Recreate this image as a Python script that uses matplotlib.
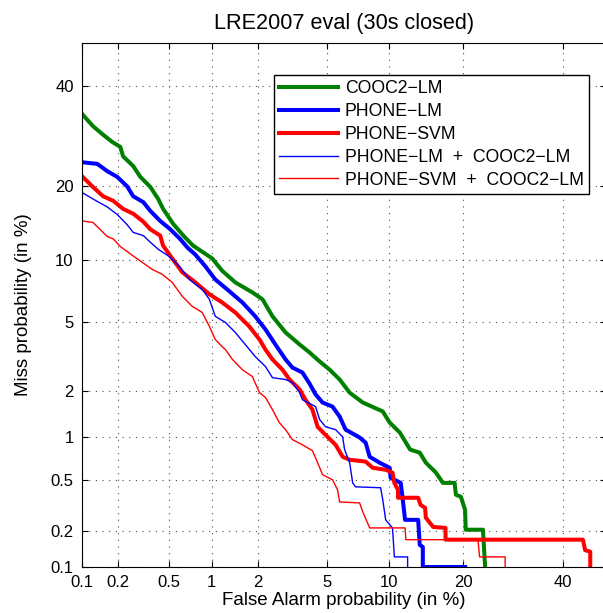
import numpy as np
import matplotlib
matplotlib.use('Agg')
import matplotlib.pyplot as plt
from matplotlib.ticker import FixedLocator, FixedFormatter, NullLocator
from statistics import NormalDist

plt.rcParams['font.family'] = ['Liberation Sans', 'DejaVu Sans']

# DET curves, false alarm (%) vs miss (%)
cooc_fa = [0.1, 0.124, 0.148, 0.179, 0.209, 0.220, 0.265, 0.301, 0.36, 0.413, 0.45, 0.535, 0.634,
           0.745, 1.01, 1.18, 1.44, 1.85, 2.14, 2.46, 2.94, 3.54, 4.02, 4.56, 5.16, 5.81, 6.53, 7.57,
           9.40, 10.1, 11.2, 12.4, 13.6, 14.4, 15.8, 16.8, 18.6, 18.8, 19.6, 20.3, 20.4, 23.4, 23.8]
cooc_miss = [33.8, 31.2, 29.6, 28.0, 27.0, 25.2, 23.4, 21.5, 19.8, 17.9, 16.4, 14.3, 12.8,
             11.6, 10.2, 8.96, 7.9, 7.07, 6.53, 5.35, 4.39, 3.77, 3.40, 3.02, 2.70, 2.36, 1.96, 1.70,
             1.49, 1.26, 1.08, 0.825, 0.785, 0.666, 0.564, 0.474, 0.474, 0.386, 0.373, 0.295, 0.205, 0.205, 0.1]

plm_fa = [0.1, 0.135, 0.163, 0.197, 0.237, 0.265, 0.318, 0.36, 0.428, 0.509, 0.60, 0.677, 0.772,
          0.906, 1.06, 1.32, 1.60, 1.93, 2.23, 2.56, 2.94, 3.22, 3.67, 4.02, 4.34, 4.73, 5.34, 5.81,
          6.23, 7.31, 7.82, 8.17, 9.09, 10.1, 10.2, 11.3, 11.5, 11.8, 13.4, 13.6, 14.0, 14.0, 20.3]
plm_miss = [24.1, 23.8, 22.5, 21.5, 19.9, 18.3, 17.4, 16.1, 14.7, 13.6, 12.4, 11.4, 10.6,
            9.40, 8.16, 7.15, 6.30, 5.35, 4.56, 3.77, 3.10, 2.78, 2.60, 2.23, 1.91, 1.70, 1.60, 1.38,
            1.13, 1.00, 0.921, 0.734, 0.666, 0.612, 0.517, 0.474, 0.373, 0.246, 0.246, 0.154, 0.148, 0.1, 0.1]

psvm_fa = [0.1, 0.124, 0.151, 0.183, 0.220, 0.265, 0.318, 0.36, 0.428, 0.45, 0.526, 0.623, 0.772,
           0.967, 1.18, 1.44, 1.77, 2.05, 2.23, 2.46, 2.82, 3.10, 3.54, 3.82, 4.17, 4.45, 4.91, 5.54,
           6.02, 6.53, 7.82, 8.44, 9.69, 10.4, 10.6, 11.0, 11.0, 13.4, 13.7, 14.3, 14.4, 15.4, 17.2,
           17.2, 44.6, 45.1, 46.3, 46.3]
psvm_miss = [21.6, 19.8, 18.3, 17.6, 16.4, 15.7, 14.6, 13.6, 12.8, 11.6, 10.2, 8.82, 7.9,
             6.92, 6.30, 5.60, 4.73, 4.02, 3.53, 3.10, 2.70, 2.36, 2.05, 1.77, 1.53, 1.18, 1.04, 0.89,
             0.734, 0.699, 0.678, 0.612, 0.592, 0.564, 0.474, 0.42, 0.366, 0.366, 0.323, 0.306, 0.256, 0.216, 0.212,
             0.170, 0.170, 0.139, 0.135, 0.1]

plm_cooc_fa = [0.1, 0.135, 0.163, 0.197, 0.237, 0.265, 0.318, 0.36, 0.413, 0.50, 0.592, 0.70, 0.863,
               0.967, 1.06, 1.24, 1.44, 1.67, 1.93, 2.23, 2.46, 2.94, 3.22, 3.54, 3.67, 4.34, 4.56, 4.91,
               5.54, 6.02, 6.16, 6.53, 6.76, 6.98, 9.19, 9.40, 9.69, 10.4, 10.6, 12.1, 12.1]
plm_cooc_miss = [18.9, 17.5, 16.7, 15.6, 14.2, 13.2, 12.8, 12.0, 11.2, 10.4, 9.40, 8.16, 7.31,
                 6.53, 5.35, 4.97, 4.39, 3.77, 3.22, 2.82, 2.42, 2.36, 2.26, 1.96, 1.77, 1.60, 1.32, 1.18,
                 1.13, 1.01, 0.825, 0.666, 0.474, 0.443, 0.436, 0.353, 0.246, 0.212, 0.122, 0.122, 0.1]

psvm_cooc_fa = [0.1, 0.124, 0.142, 0.163, 0.183, 0.209, 0.275, 0.373, 0.443, 0.526, 0.623, 0.734, 0.863,
                0.967, 1.06, 1.18, 1.24, 1.38, 1.60, 1.85, 2.05, 2.23, 2.46, 2.70, 2.94, 3.22, 3.67, 4.17,
                4.45, 4.73, 5.34, 5.67, 5.81, 7.31, 7.57, 8.17, 11.8, 11.9, 22.5, 22.8, 27.6, 27.6]
psvm_cooc_miss = [14.7, 14.5, 13.6, 12.7, 12.4, 11.5, 10.3, 9.09, 8.63, 7.90, 6.76, 6.02, 5.60,
                  4.73, 4.02, 3.67, 3.53, 3.10, 2.70, 2.46, 1.96, 1.83, 1.53, 1.26, 1.13, 0.967, 0.89, 0.81,
                  0.666, 0.545, 0.50, 0.42, 0.34, 0.334, 0.285, 0.212, 0.212, 0.170, 0.170, 0.122, 0.122, 0.1]

tick_vals = [0.1, 0.2, 0.5, 1, 2, 5, 10, 20, 40]
tick_labels = ['0.1', '0.2', '0.5', '1', '2', '5', '10', '20', '40']

nd = NormalDist()
_ppf = np.vectorize(nd.inv_cdf, otypes=[float])
_cdf = np.vectorize(nd.cdf, otypes=[float])


def probit(p):
    p = np.clip(np.asarray(p, dtype=float) / 100.0, 1e-9, 1 - 1e-9)
    return _ppf(p)


def inv_probit(z):
    return _cdf(np.asarray(z, dtype=float)) * 100.0


fig = plt.figure(figsize=(6.03, 6.13), dpi=100)
ax = fig.add_axes([82/603, 46/613, 524/603, 524/613])
ax.set_xscale('function', functions=(probit, inv_probit))
ax.set_yscale('function', functions=(probit, inv_probit))

thick = 2.9
thin = 1.0
ax.plot(cooc_fa, cooc_miss, color='#008000', lw=thick, label='COOC2\u2212LM')
ax.plot(plm_fa, plm_miss, color='#0000ff', lw=thick, label='PHONE\u2212LM')
ax.plot(psvm_fa, psvm_miss, color='#ff0000', lw=thick, label='PHONE\u2212SVM')
ax.plot(plm_cooc_fa, plm_cooc_miss, color='#0000ff', lw=thin, label='PHONE\u2212LM  +  COOC2\u2212LM')
ax.plot(psvm_cooc_fa, psvm_cooc_miss, color='#ff0000', lw=thin, label='PHONE\u2212SVM  +  COOC2\u2212LM')

ax.set_xlim(0.1, 50)
ax.set_ylim(0.1, 50)
for axis in (ax.xaxis, ax.yaxis):
    axis.set_major_locator(FixedLocator(tick_vals))
    axis.set_major_formatter(FixedFormatter(tick_labels))
    axis.set_minor_locator(NullLocator())

ax.tick_params(direction='in', top=True, right=True, length=4, labelsize=12, pad=6)
ax.grid(True, color='0.3', linestyle=(0, (1, 5)), linewidth=0.8)

ax.set_title('LRE2007 eval (30s closed)', fontsize=15.6, pad=10)
ax.set_xlabel('False Alarm probability (in %)', fontsize=13.5, labelpad=1)
ax.set_ylabel('Miss probability (in %)', fontsize=13.5, labelpad=13)

ax.legend(loc='upper right', bbox_to_anchor=(589/603, 1 - 75/613), bbox_transform=fig.transFigure,
          fancybox=False, edgecolor='k', framealpha=1, fontsize=12.7, handlelength=3.3,
          borderaxespad=0, labelspacing=0.33, handletextpad=0.4, borderpad=0.3)

fig.savefig('out.png', dpi=100)
